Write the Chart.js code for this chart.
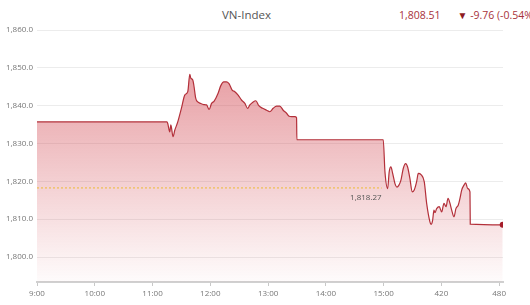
<!DOCTYPE html>
<html>
<head>
<meta charset="utf-8">
<script src="https://cdn.jsdelivr.net/npm/chart.js@4/dist/chart.umd.min.js"></script>
<style>
  body { margin: 0; width: 530px; height: 305px; overflow: hidden; background: #fff; font-family: "Open Sans", sans-serif; }
  #title { position: absolute; top: 8px; left: 0; width: 493px; text-align: center; font-size: 11.5px; line-height: 14px; color: #555; }
  #quote { position: absolute; top: 8px; left: 399px; white-space: nowrap; font-size: 10.5px; line-height: 14px; color: #a8323a; }
  #quote .arrow { color: #8e1b22; font-size: 10px; margin-left: 17px; }
  #chart { position: absolute; top: 0; left: 0; }
</style>
</head>
<body>
<div id="title">VN-Index</div>
<div id="quote">1,808.51<span class="arrow">▼</span> -9.76 (-0.54%)</div>
<canvas id="chart" width="530" height="305"></canvas>
<script>
// minutes since 9:00 and index values
const minutes = [0, 135, 135.8, 137.9, 139, 141.3, 143.1, 146.2, 150.1, 153.5, 156.6, 158.7, 159.7, 161.8, 162.9, 164.9,
  167, 169.8, 173.2, 176.1, 178.8, 181.3, 184, 188.1, 190.9, 194, 196.8, 199.2, 200.3, 202.7, 205.5, 208.9,
  212.4, 215.9, 218.7, 221.1, 224.5, 227.3, 230.4, 234.3, 238.4, 241.8, 245.3, 248.8, 252.2, 255.7, 259.2,
  261.9, 264.4, 267.8, 269.6, 269.9, 359.6, 361.4, 364.2, 365.8, 367.6, 369.4, 371.8, 373.8, 375.9, 378,
  380.4, 382.9, 384.9, 387.3, 389.7, 391.8, 394.3, 396, 398.8, 402.2, 404.7, 408.1, 409.2, 410.9, 412.3,
  413.3, 415.1, 417.8, 420.3, 422.7, 424.8, 426.9, 428.9, 430.7, 433.1, 435.1, 437.5, 439.3, 441.1, 443.5,
  445.2, 447.3, 449.7, 450, 483.7];
const values = [1835.7, 1835.7, 1835.3, 1833.1, 1834.9, 1831.8, 1833.5, 1835.7, 1839.4, 1842.8, 1843.7, 1848.3, 1847.3, 1846.8, 1845.4, 1841.9,
  1841.0, 1840.6, 1840.3, 1840.2, 1839.0, 1840.6, 1841.2, 1843.3, 1845.3, 1846.3, 1846.3, 1845.9, 1845.4, 1844.1, 1843.7, 1842.8,
  1841.5, 1840.6, 1839.3, 1840.2, 1841.0, 1841.3, 1840.0, 1839.3, 1838.8, 1838.4, 1839.3, 1839.9, 1839.9, 1838.8, 1838.0,
  1837.2, 1837.1, 1837.1, 1836.8, 1831.0, 1831.0, 1822.5, 1818.1, 1822.5, 1823.8, 1822.1, 1819.4, 1818.5, 1819.0, 1820.3,
  1823.4, 1824.7, 1823.8, 1820.8, 1817.2, 1817.7, 1819.9, 1822.1, 1821.8, 1819.9, 1814.2, 1809.3, 1808.6, 1809.7, 1812.4,
  1811.7, 1812.8, 1813.3, 1811.9, 1814.2, 1813.3, 1815.5, 1814.2, 1812.4, 1810.6, 1812.8, 1813.7, 1815.5, 1817.7, 1819.0,
  1819.6, 1818.1, 1817.2, 1808.7, 1808.51];

const refValue = 1818.27;
const refEnd = 358;

const xTickValues = [0, 60, 120, 180, 240, 300, 360, 420, 480];
const xTickLabels = ['9:00', '10:00', '11:00', '12:00', '13:00', '14:00', '15:00', '420', '480'];
const yTickValues = [1800, 1810, 1820, 1830, 1840, 1850, 1860];

const refLabel = {
  id: 'refLabel',
  afterDatasetsDraw(chart) {
    const { ctx, scales } = chart;
    const x = scales.x.getPixelForValue(refEnd);
    const y = scales.y.getPixelForValue(refValue);
    ctx.save();
    ctx.font = '8px "Open Sans"';
    ctx.fillStyle = '#555';
    ctx.textAlign = 'right';
    ctx.textBaseline = 'middle';
    ctx.fillText(refValue.toLocaleString('en-US', { minimumFractionDigits: 2 }), x, y + 9.5);
    ctx.restore();
  }
};

const lastIndex = values.length - 1;

new Chart(document.getElementById('chart'), {
  type: 'line',
  data: {
    datasets: [{
      data: [{ x: 0, y: refValue }, { x: refEnd, y: refValue }],
      borderColor: '#f0c36a',
      borderWidth: 1.5,
      borderDash: [2, 2],
      pointRadius: 0,
      fill: false,
      order: 0
    }, {
      data: minutes.map((m, i) => ({ x: m, y: values[i] })),
      borderColor: '#b3303a',
      borderWidth: 1.2,
      cubicInterpolationMode: 'monotone',
      pointRadius: ctx => ctx.dataIndex === lastIndex ? 3 : 0,
      pointBackgroundColor: '#a51d2a',
      pointBorderWidth: 0,
      fill: 'start',
      backgroundColor: ctx => {
        const area = ctx.chart.chartArea;
        if (!area) return 'rgba(210,70,80,0.3)';
        const g = ctx.chart.ctx.createLinearGradient(0, area.top, 0, area.bottom);
        g.addColorStop(0, 'rgba(210,70,80,0.62)');
        g.addColorStop(1, 'rgba(210,70,80,0.02)');
        return g;
      },
      order: 1
    }]
  },
  options: {
    responsive: false,
    animation: false,
    devicePixelRatio: 1,
    layout: { padding: { top: 30, right: 27, left: 0, bottom: 0 } },
    plugins: { legend: { display: false }, tooltip: { enabled: false } },
    scales: {
      x: {
        type: 'linear',
        min: 0,
        max: 484,
        afterBuildTicks: s => { s.ticks = xTickValues.map(v => ({ value: v })); },
        afterFit: s => { s.height = 23; },
        grid: { drawOnChartArea: false, drawTicks: true, tickLength: 4, tickColor: '#c8c8c8' },
        border: { display: true, color: '#d0d0d0', width: 2 },
        ticks: {
          autoSkip: false,
          maxRotation: 0,
          padding: 3,
          color: '#777',
          font: { family: 'Open Sans', size: 8 },
          callback: (v, i) => xTickLabels[i]
        }
      },
      y: {
        min: 1793.4,
        max: 1860,
        afterBuildTicks: s => { s.ticks = yTickValues.map(v => ({ value: v })); },
        afterFit: s => { s.width = 37; },
        grid: { color: '#ececec', drawTicks: false },
        border: { display: false },
        ticks: {
          padding: 4,
          color: '#777',
          font: { family: 'Open Sans', size: 8 },
          callback: v => v.toLocaleString('en-US', { minimumFractionDigits: 1, maximumFractionDigits: 1 })
        }
      }
    }
  },
  plugins: [refLabel]
});
</script>
</body>
</html>
